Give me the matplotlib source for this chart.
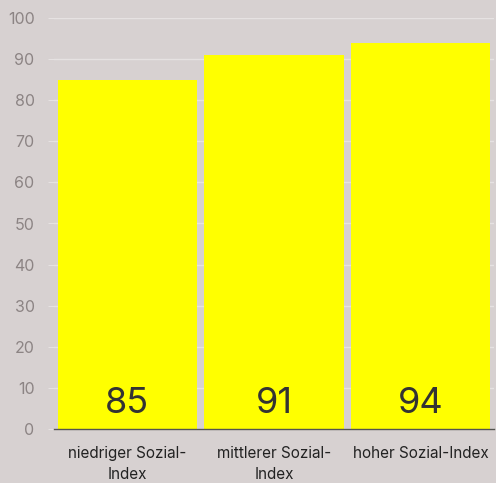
import matplotlib
matplotlib.use("Agg")
import matplotlib.pyplot as plt

categories = ["niedriger Sozial-\nIndex", "mittlerer Sozial-\nIndex", "hoher Sozial-Index"]
values = [85, 91, 94]
yticks = [0, 10, 20, 30, 40, 50, 60, 70, 80, 90, 100]

plt.rcParams['font.family'] = ['Inter', 'DejaVu Sans']
bg = "#d7d1d1"
fig = plt.figure(figsize=(4.96, 4.83), dpi=100, facecolor=bg)
ax = fig.add_axes([54/496, 1-429/483, 440/496, 411/483], facecolor=bg)

x = list(range(len(categories)))
bars = ax.bar(x, values, width=0.95, color="#ffff00", zorder=2)
for xi, v in zip(x, values):
    ax.text(xi, 2.3, str(v), ha="center", va="bottom", fontsize=26, color="#333333", zorder=3)

ax.set_xlim(-0.5, 2.5)
ax.set_ylim(0, 100)
ax.set_yticks(yticks)
ax.set_xticks(x)
ax.set_xticklabels(categories, fontsize=11, color="#222222", linespacing=1.5)
ax.grid(axis="y", color="#e6e2e2", linewidth=1, zorder=1)
for s in ["top", "right", "left"]:
    ax.spines[s].set_visible(False)
ax.spines["bottom"].set_color("#555550")
ax.spines["bottom"].set_linewidth(1)
ax.tick_params(axis="y", length=4, color="#e6e2e2", labelcolor="#8c8484", labelsize=11.5, pad=10)
ax.tick_params(axis="x", length=0, pad=12)

fig.savefig("out.png", dpi=100, facecolor=bg)
